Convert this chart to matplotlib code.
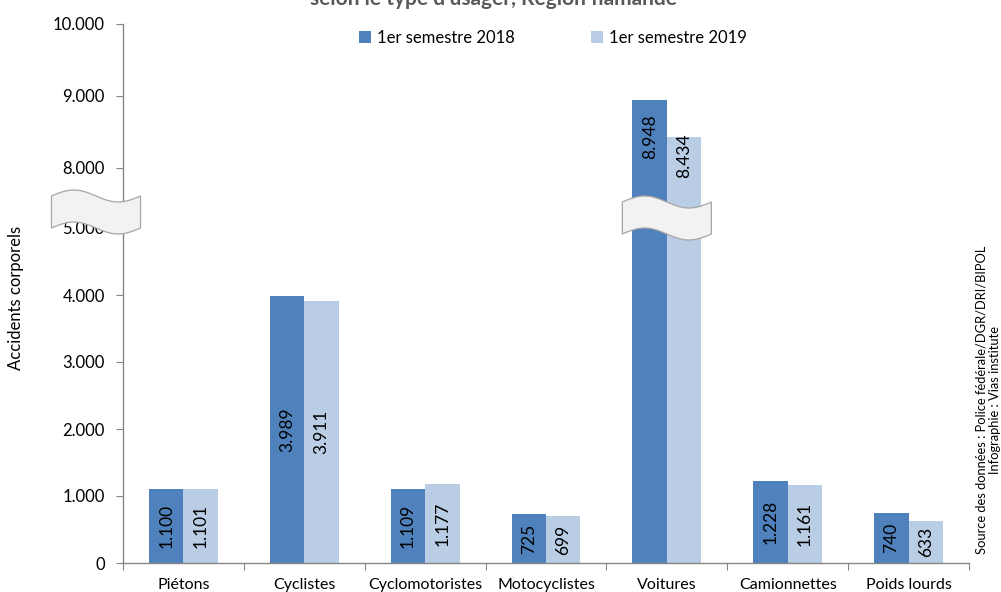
import numpy as np
import matplotlib
matplotlib.use('Agg')
import matplotlib.pyplot as plt
from matplotlib.patches import Polygon
from matplotlib.transforms import IdentityTransform

plt.rcParams['font.family'] = ['Lato', 'DejaVu Sans']

categories = ['Piétons', 'Cyclistes', 'Cyclomotoristes', 'Motocyclistes',
              'Voitures', 'Camionnettes', 'Poids lourds']
s2018 = [1100, 3989, 1109, 725, 8948, 1228, 740]
s2019 = [1101, 3911, 1177, 699, 8434, 1161, 633]
series_names = ['1er semestre 2018', '1er semestre 2019']
yticks = [0, 1000, 2000, 3000, 4000, 5000, 8000, 9000, 10000]

c18 = '#4F81BD'
c19 = '#B9CDE5'
grey = '#868686'

# broken axis: 0-5000 and 8000-10000, squeezed gap in between
VB = np.array([0, 5000, 8000, 10000], float)
UB = np.array([0, 335, 395, 539], float)

def _pw(x, xp, fp):
    x = np.asarray(x, float)
    lo = fp[0] + (x - xp[0]) * (fp[1] - fp[0]) / (xp[1] - xp[0])
    hi = fp[-1] + (x - xp[-1]) * (fp[-1] - fp[-2]) / (xp[-1] - xp[-2])
    return np.where(x < xp[0], lo, np.where(x > xp[-1], hi, np.interp(x, xp, fp)))

def fwd(v):
    return _pw(v, VB, UB)

def inv(u):
    return _pw(u, UB, VB)

def fmt(v):
    return '{:,}'.format(v).replace(',', '.')

W, H = 1001, 592
fig = plt.figure(figsize=(W / 100, H / 100), dpi=100)
ax = fig.add_axes([123 / W, 1 - 563 / H, (969 - 123) / W, (563 - 24) / H])
ax.set_yscale('function', functions=(fwd, inv))
ax.set_ylim(0, 10000)
ax.set_xlim(-0.5, len(categories) - 0.5)

x = np.arange(len(categories))
bw = 0.285
ax.bar(x - bw / 2, s2018, bw, color=c18, label=series_names[0], zorder=2)
ax.bar(x + bw / 2, s2019, bw, color=c19, label=series_names[1], zorder=2)

# value labels
brk = 7700
for xs, vals in [(x - bw / 2, s2018), (x + bw / 2, s2019)]:
    for xi, v in zip(xs, vals):
        if v > 8000:
            yc = inv((fwd(v) + fwd(brk)) / 2)
        else:
            yc = v / 2
        ax.text(xi, yc, fmt(v), rotation=90, ha='center', va='center',
                fontsize=12.5, color='black', zorder=3)

# axes styling
for s in ['top', 'right']:
    ax.spines[s].set_visible(False)
for s in ['left', 'bottom']:
    ax.spines[s].set_color(grey)
    ax.spines[s].set_linewidth(1)
ax.set_yticks(yticks)
ax.set_yticklabels([fmt(v) for v in yticks])
ax.yaxis.set_minor_locator(matplotlib.ticker.NullLocator())
ax.tick_params(axis='y', which='major', direction='out', length=5, color=grey,
               labelsize=12, pad=8)
ax.set_xticks(np.arange(len(categories) + 1) - 0.5)
ax.set_xticklabels([])
ax.set_xticks(x, minor=True)
ax.set_xticklabels(categories, minor=True)
ax.tick_params(axis='x', which='major', direction='out', length=5, color=grey)
ax.tick_params(axis='x', which='minor', length=0, labelsize=11.5, pad=11)

ax.set_ylabel('Accidents corporels', fontsize=12)
ax.yaxis.set_label_coords((24 - 123) / 846, (563 - 298) / 539)

leg = ax.legend(loc='center', bbox_to_anchor=(553 / W, 1 - 38 / H),
                bbox_transform=fig.transFigure, ncol=2, frameon=False,
                fontsize=12, handlelength=0.7, handleheight=0.7,
                handletextpad=0.35, columnspacing=4.6)

fig.text(493 / W, 1 - 5 / H, "selon le type d'usager, Région flamande",
         ha='center', va='baseline', fontsize=15, fontweight='bold',
         color='#595959')

fig.text(988 / W, 1 - 400 / H,
         'Source des données : Police fédérale/DGR/DRI/BIPOL\nInfographie : Vias institute',
         rotation=90, ha='center', va='center', multialignment='center',
         fontsize=9.3, linespacing=1.15)

# wavy break markers
def wave(xd, yd, w=89, h=32, a=6, dx=0):
    cx, cy = ax.transData.transform((xd, yd))
    cx += dx
    t = np.linspace(0, 1, 60)
    xs = cx - w / 2 + w * t
    top = cy + h / 2 + a * np.sin(2 * np.pi * t)
    bot = cy - h / 2 + a * np.sin(2 * np.pi * t)
    pts = np.vstack([np.column_stack([xs, top]), np.column_stack([xs[::-1], bot[::-1]])])
    p = Polygon(pts, closed=True, facecolor='#F2F2F2', edgecolor='#A6A6A6',
                linewidth=0.9, transform=IdentityTransform(), zorder=5)
    fig.add_artist(p)

fig.canvas.draw()
wave(-0.5, 5800, dx=-27)
wave(4, 5500)

fig.savefig('out.png', dpi=100)
